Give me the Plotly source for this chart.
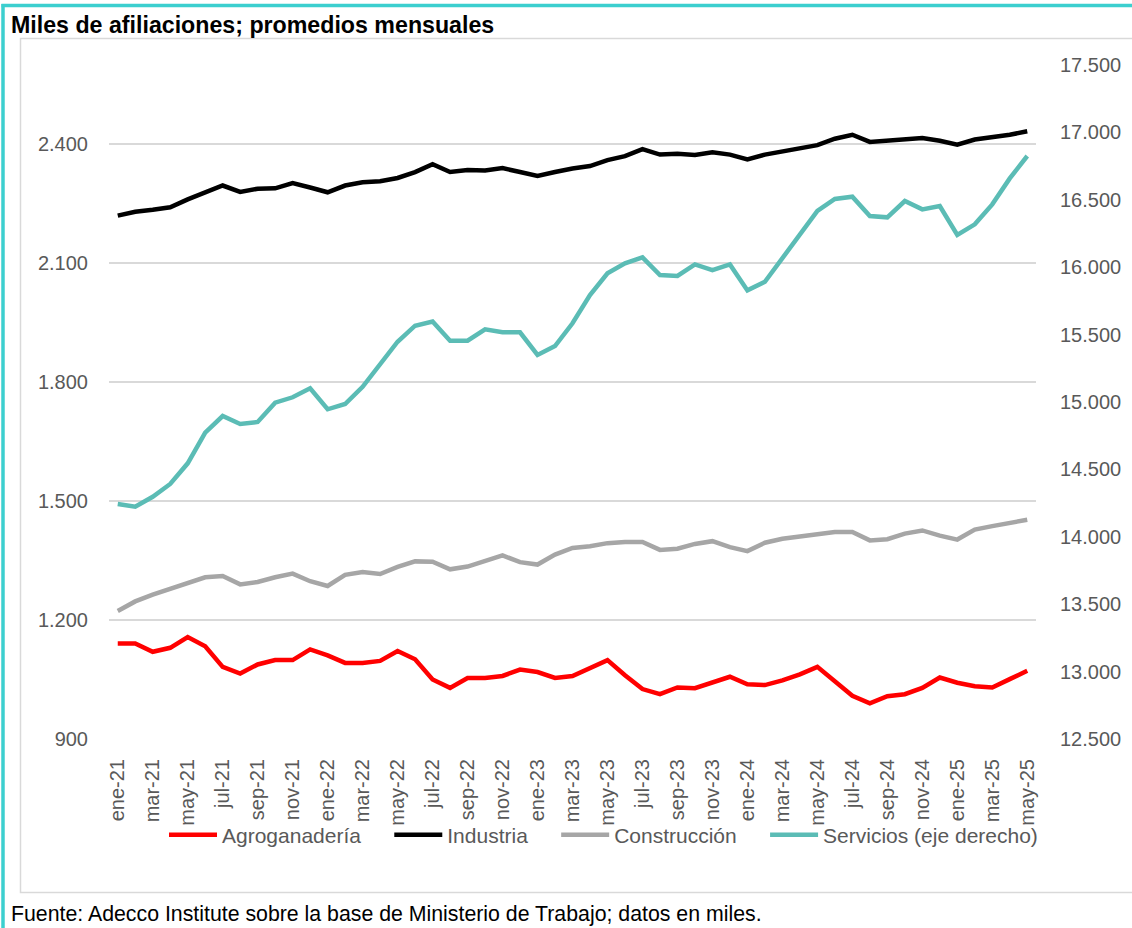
import plotly.graph_objects as go

month_abbr = ["ene", "feb", "mar", "abr", "may", "jun", "jul", "ago", "sep", "oct", "nov", "dic"]
years = ["21", "22", "23", "24", "25"]
categories = [f"{m}-{y}" for y in years for m in month_abbr][:53]
tick_labels = categories[::2]

agroganaderia = [1141, 1141, 1120, 1130, 1157, 1134, 1082, 1065, 1088, 1099, 1099, 1126, 1111,
                 1092, 1092, 1097, 1122, 1101, 1050, 1029, 1054, 1054, 1059, 1075, 1069, 1054,
                 1059, 1078, 1099, 1061, 1026, 1013, 1030, 1028, 1044, 1057, 1038, 1036, 1048,
                 1063, 1082, 1044, 1009, 990, 1008, 1013, 1029, 1055, 1042, 1033, 1030, 1051, 1072]
industria = [2220, 2230, 2235, 2241, 2261, 2279, 2296, 2280, 2288, 2289, 2302, 2291, 2279,
             2296, 2304, 2307, 2315, 2330, 2350, 2330, 2335, 2334, 2340, 2330, 2320, 2330,
             2339, 2345, 2360, 2370, 2388, 2374, 2376, 2373, 2380, 2374, 2362, 2374, 2382,
             2388, 2398, 2414, 2424, 2406, 2409, 2412, 2416, 2409, 2399, 2412, 2418, 2424, 2433]
construccion = [1223, 1247, 1264, 1279, 1296, 1308, 1311, 1290, 1296, 1308, 1317, 1298, 1286,
                1314, 1321, 1316, 1334, 1348, 1347, 1328, 1335, 1350, 1363, 1346, 1340, 1365,
                1382, 1386, 1394, 1397, 1397, 1377, 1380, 1392, 1399, 1384, 1374, 1395, 1405,
                1411, 1417, 1422, 1422, 1401, 1404, 1418, 1426, 1413, 1403, 1428, 1437, 1444, 1453]
servicios = [14243, 14223, 14297, 14392, 14545, 14772, 14896, 14837, 14852, 14995, 15035, 15102, 14946,
             14985, 15113, 15274, 15447, 15566, 15597, 15455, 15455, 15539, 15517, 15517, 15349, 15415,
             15584, 15794, 15955, 16029, 16073, 15942, 15935, 16021, 15979, 16021, 15828, 15892, 16066,
             16239, 16417, 16506, 16523, 16380, 16370, 16491, 16429, 16454, 16239, 16318, 16466, 16659, 16825]

series_names = ["Agroganadería", "Industria", "Construcción", "Servicios (eje derecho)"]
left_ticks = [900, 1200, 1500, 1800, 2100, 2400]
right_ticks = [12500, 13000, 13500, 14000, 14500, 15000, 15500, 16000, 16500, 17000, 17500]

FONT = "Liberation Sans, Arial, sans-serif"
LW = 4.5
PAD = "\u00a0\u00a0\u00a0\u00a0"  # spacing after legend labels

fig = go.Figure()
fig.add_trace(go.Scatter(x=categories, y=agroganaderia, name=series_names[0] + PAD, mode="lines",
                         line=dict(color="#FF0000", width=LW)))
fig.add_trace(go.Scatter(x=categories, y=industria, name=series_names[1] + PAD, mode="lines",
                         line=dict(color="#000000", width=LW)))
fig.add_trace(go.Scatter(x=categories, y=construccion, name=series_names[2] + PAD, mode="lines",
                         line=dict(color="#A6A6A6", width=LW)))
fig.add_trace(go.Scatter(x=categories, y=servicios, name=series_names[3], mode="lines",
                         line=dict(color="#5BBCB5", width=LW), yaxis="y2"))

W, H = 1132, 928
L, R, T, B = 109, 96, 65, 189
pw, ph = W - L - R, H - T - B

def px_x(x):
    return (x - L) / pw

def px_y(y):
    return (H - B - y) / ph

TICKCOL = "rgba(0,0,0,0)"

fig.update_layout(
    width=W, height=H,
    margin=dict(l=L, r=R, t=T, b=B, pad=0),
    paper_bgcolor="white", plot_bgcolor="white",
    separators=",.",
    font=dict(family=FONT, color="#595959", size=20),
    showlegend=True,
    legend=dict(orientation="h", x=px_x(164), y=px_y(835), xanchor="left", yanchor="middle",
                font=dict(size=21, color="#595959", family=FONT), itemwidth=48,
                bgcolor="rgba(0,0,0,0)", traceorder="normal"),
    xaxis=dict(type="category", categoryorder="array", categoryarray=categories,
               range=[-0.5, len(categories) - 0.5],
               tickmode="array", tickvals=tick_labels, ticktext=tick_labels,
               tickangle=-90, tickfont=dict(size=20, color="#595959", family=FONT),
               showgrid=False, showline=False, zeroline=False,
               ticks="outside", ticklen=11, tickcolor=TICKCOL),
    yaxis=dict(range=[900, 2600], tickmode="array", tickvals=left_ticks, tickformat=",d",
               showgrid=True, gridcolor="#D9D9D9", gridwidth=1.5, zeroline=False,
               showline=False, ticks="outside", ticklen=16, tickcolor=TICKCOL,
               tickfont=dict(size=20, color="#595959", family=FONT)),
    yaxis2=dict(range=[12500, 17500], tickmode="array", tickvals=right_ticks, tickformat=",d",
                overlaying="y", side="right", showgrid=False, zeroline=False, showline=False,
                ticks="outside", ticklen=19, tickcolor=TICKCOL,
                tickfont=dict(size=20, color="#595959", family=FONT)),
)

# chart area border (gray) and outer turquoise frame
fig.add_shape(type="rect", xref="paper", yref="paper",
              x0=px_x(20.5), x1=px_x(1145), y0=px_y(892.5), y1=px_y(38.5),
              line=dict(color="#D9D9D9", width=1.5), fillcolor="rgba(0,0,0,0)", layer="below")
fig.add_shape(type="line", xref="paper", yref="paper",
              x0=px_x(3), x1=px_x(3), y0=px_y(940), y1=px_y(4),
              line=dict(color="#3CCFCF", width=3.5))
fig.add_shape(type="line", xref="paper", yref="paper",
              x0=px_x(1.5), x1=px_x(1145), y0=px_y(5.5), y1=px_y(5.5),
              line=dict(color="#3CCFCF", width=3.5))

fig.add_annotation(text="<b>Miles de afiliaciones; promedios mensuales</b>",
                   xref="paper", yref="paper", x=px_x(9), y=px_y(25),
                   xanchor="left", yanchor="middle", showarrow=False,
                   font=dict(size=23.2, color="#000000", family=FONT))
fig.add_annotation(text="Fuente: Adecco Institute sobre la base de Ministerio de Trabajo; datos en miles.",
                   xref="paper", yref="paper", x=px_x(9), y=px_y(914),
                   xanchor="left", yanchor="middle", showarrow=False,
                   font=dict(size=21.3, color="#000000", family=FONT))

fig.write_html("out.html", config={"displayModeBar": False},
               post_script="document.body.style.margin='0px';document.body.style.overflow='hidden';")
